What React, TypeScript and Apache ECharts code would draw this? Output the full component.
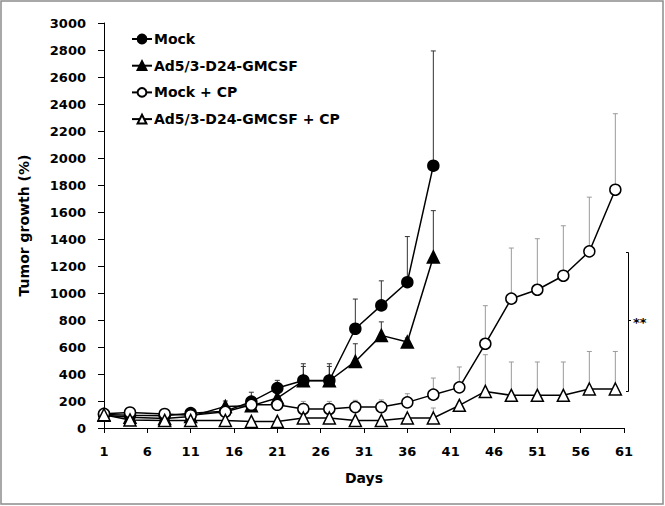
import React, { useEffect, useRef } from "react";
import * as echarts from "echarts";

const days = [1, 4, 8, 11, 15, 18, 21, 24, 27, 30, 33, 36, 39, 42, 45, 48, 51, 54, 57, 60];
const xTicks = [1, 6, 11, 16, 21, 26, 31, 36, 41, 46, 51, 56, 61];

const mock = [100, 95, 90, 110, 125, 195, 296, 352, 352, 735, 908, 1080, 1943];
const mockErr = [0, 0, 0, 10, 30, 70, 57, 124, 124, 220, 182, 338, 850];

const ad5 = [95, 80, 70, 85, 160, 165, 222, 350, 350, 493, 686, 637, 1267];
const ad5Err = [0, 0, 0, 0, 40, 30, 40, 106, 106, 131, 100, 30, 343];

const mockCP = [105, 115, 104, 95, 120, 172, 172, 141, 141, 155, 155, 190, 247, 301, 624, 958, 1024, 1128, 1308, 1765];
const mockCPErr = [0, 0, 0, 0, 0, 0, 0, 56, 56, 50, 53, 64, 123, 151, 282, 375, 378, 370, 402, 563];

const ad5CP = [98, 60, 56, 56, 56, 49, 49, 74, 74, 56, 56, 74, 74, 168, 271, 242, 242, 242, 289, 289];
const ad5CPErr = [0, 0, 0, 0, 0, 0, 0, 0, 0, 0, 0, 0, 74, 0, 272, 247, 247, 247, 278, 278];

const names = ["Mock", "Ad5/3-D24-GMCSF", "Mock + CP", "Ad5/3-D24-GMCSF + CP"];

const FONT = "DejaVu Sans";

function errSeries(name: string, vals: number[], errs: number[], color: string) {
  const data = vals
    .map((v, i) => [days[i], v, v + errs[i]])
    .filter((_, i) => errs[i] > 0);
  return {
    type: "custom",
    name: name + " err",
    data,
    z: 1,
    silent: true,
    encode: { x: 0, y: [1, 2] },
    renderItem: (params: any, api: any) => {
      const p0 = api.coord([api.value(0), api.value(1)]);
      const p1 = api.coord([api.value(0), api.value(2)]);
      return {
        type: "group",
        children: [
          { type: "line", shape: { x1: p0[0], y1: p0[1], x2: p1[0], y2: p1[1] }, style: { stroke: color, lineWidth: 1 } },
          { type: "line", shape: { x1: p1[0] - 2.5, y1: p1[1], x2: p1[0] + 2.5, y2: p1[1] }, style: { stroke: color, lineWidth: 1 } },
        ],
      };
    },
  };
}

function lineSeries(name: string, vals: number[], symbol: string, filled: boolean) {
  return {
    type: "line",
    name,
    data: vals.map((v, i) => [days[i], v]),
    symbol,
    symbolSize: symbol === "circle" ? 11 : 12,
    showAllSymbol: true,
    z: 3,
    lineStyle: { color: "#000", width: 1.5 },
    itemStyle: { color: filled ? "#000" : "#fff", borderColor: "#000", borderWidth: 1.5 },
  };
}

export default function App() {
  const ref = useRef<HTMLDivElement>(null);
  useEffect(() => {
    if (!ref.current) return;
    const chart = echarts.init(ref.current, null, { renderer: "svg" });
    chart.setOption({
      animation: false,
      backgroundColor: "#fff",
      textStyle: { fontFamily: FONT },
      grid: { left: 104, right: 41, top: 23, bottom: 78 },
      legend: {
        data: names,
        orient: "vertical",
        left: 126,
        top: 25,
        itemWidth: 20,
        itemHeight: 11,
        itemGap: 8.7,
        textStyle: { fontFamily: FONT, fontWeight: "bold", fontSize: 14, color: "#000", lineHeight: 18, padding: [0, 0, 0, -3] },
      },
      xAxis: {
        type: "value",
        min: 1,
        max: 61,
        name: "Days",
        nameLocation: "middle",
        nameGap: 43,
        nameTextStyle: { fontFamily: FONT, fontWeight: "bold", fontSize: 14, color: "#000" },
        splitLine: { show: false },
        axisLine: { show: true, lineStyle: { color: "#000", width: 1 } },
        axisTick: { show: true, length: 5, customValues: xTicks, lineStyle: { color: "#000" } },
        axisLabel: { customValues: xTicks, margin: 17, fontFamily: FONT, fontWeight: "bold", fontSize: 13, color: "#000" },
      },
      yAxis: {
        type: "value",
        min: 0,
        max: 3000,
        interval: 200,
        name: "Tumor growth (%)",
        nameLocation: "middle",
        nameGap: 73,
        nameTextStyle: { fontFamily: FONT, fontWeight: "bold", fontSize: 14, color: "#000" },
        splitLine: { show: false },
        axisLine: { show: true, lineStyle: { color: "#000", width: 1 } },
        axisTick: { show: true, length: 6, lineStyle: { color: "#000" } },
        axisLabel: { margin: 18, formatter: (v: number) => String(v), fontFamily: FONT, fontWeight: "bold", fontSize: 13, color: "#000" },
      },
      graphic: [
        { type: "rect", shape: { x: 1, y: 1, width: 662, height: 503 }, style: { stroke: "#8c8c8c", fill: "none", lineWidth: 1.5 }, silent: true },
        { type: "polyline", shape: { points: [[626, 252.5], [628.5, 252.5], [628.5, 391.5], [626, 391.5]] }, style: { stroke: "#000", fill: "none", lineWidth: 1 } },
        { type: "line", shape: { x1: 628.5, y1: 320.5, x2: 631, y2: 320.5 }, style: { stroke: "#000", lineWidth: 1 } },
        { type: "text", x: 633, y: 322, style: { text: "**", fontFamily: FONT, fontWeight: "bold", fontSize: 13, fill: "#000", verticalAlign: "middle" } },
      ],
      series: [
        errSeries("Mock", mock, mockErr, "#333"),
        errSeries("Ad5", ad5, ad5Err, "#333"),
        errSeries("MockCP", mockCP, mockCPErr, "#9a9a9a"),
        errSeries("Ad5CP", ad5CP, ad5CPErr, "#9a9a9a"),
        lineSeries(names[0], mock, "circle", true),
        lineSeries(names[1], ad5, "triangle", true),
        lineSeries(names[2], mockCP, "circle", false),
        lineSeries(names[3], ad5CP, "triangle", false),
      ],
    });
    return () => chart.dispose();
  }, []);
  return <div ref={ref} style={{ position: "fixed", left: 0, top: 0, width: 665, height: 506 }} />;
}
